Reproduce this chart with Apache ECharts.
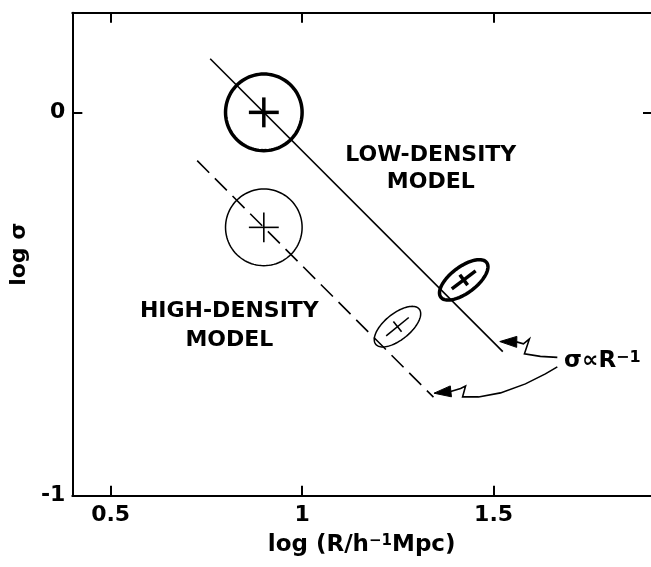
<!DOCTYPE html>
<html><head><meta charset="utf-8">
<script src="https://cdn.jsdelivr.net/npm/echarts@6/dist/echarts.min.js"></script>
<style>html,body{margin:0;padding:0;background:#fff}#c{width:651px;height:567px}</style>
</head><body><div id="c"></div>
<script>
// ---- axis ticks ----
const xTicks = [0.5, 1, 1.5];
const xTickLabels = ['0.5', '1', '1.5'];
const yTicks = [-1, 0];
const yTickLabels = ['-1', '0'];

// ---- sigma ∝ R^-1 model lines ----
const lowLineX = [0.76, 1.524];
const lowLineY = [0.14, -0.624];
const highLineX = [0.726, 1.343];
const highLineY = [-0.126, -0.743];

// ---- measured points (centre, error ellipse semi-axes, tilt in degrees) ----
const lowX = [0.9, 1.422];
const lowY = [0.0, -0.437];
const lowSemiMajor = [0.1, 0.075];
const lowSemiMinor = [0.1, 0.034];
const lowAngle = [0, 37];

const highX = [0.9, 1.249];
const highY = [-0.3, -0.559];
const highSemiMajor = [0.1, 0.073];
const highSemiMinor = [0.1, 0.034];
const highAngle = [0, 39];

// ---- annotation texts (data coordinates) ----
const labelTexts = ['LOW-DENSITY', 'MODEL', 'HIGH-DENSITY', 'MODEL'];
const labelX = [1.336, 1.336, 0.81, 0.81];
const labelY = [-0.113, -0.182, -0.518, -0.594];
const lawText = ['σ∝R', '−1'];
const lawX = [1.784];
const lawY = [-0.649];

// ---- pointer arrows (tip first, then tail path) ----
const arrow1X = [1.5161, 1.5596, 1.5779, 1.5935, 1.5805, 1.6221, 1.6664];
const arrow1Y = [-0.5979, -0.5987, -0.6039, -0.5909, -0.6300, -0.6366, -0.6392];
const arrow2X = [1.3443, 1.3878, 1.4138, 1.4268, 1.4190, 1.4607, 1.5180, 1.5831, 1.6352, 1.6664];
const arrow2Y = [-0.7326, -0.7279, -0.7201, -0.7136, -0.7423, -0.7423, -0.7318, -0.7083, -0.6822, -0.6640];

const FONT = 'DejaVu Sans';
const chart = echarts.init(document.getElementById('c'), null, {renderer: 'canvas'});

function markerRenderer(lineWidth, crossWidth) {
  return function (params, api) {
    const c = api.coord([api.value(0), api.value(1)]);
    const s = api.size([1, 1]);
    const a = api.value(2) * s[0];
    const b = api.value(3) * s[1];
    const th = api.value(4) * Math.PI / 180;
    const ct = Math.cos(th), st = Math.sin(th);
    const tr = (lx, ly) => [c[0] + lx * ct - ly * st, c[1] - (lx * st + ly * ct)];
    const pts = [];
    for (let k = 0; k < 96; k++) {
      const t = k / 96 * Math.PI * 2;
      pts.push(tr(a * Math.cos(t), b * Math.sin(t)));
    }
    const circ = Math.abs(a - b) < 1;
    const ma = circ ? 0.39 * a : 0.52 * a;
    const mb = circ ? 0.39 * b : 0.5 * b;
    const p1 = tr(-ma, 0), p2 = tr(ma, 0), p3 = tr(0, -mb), p4 = tr(0, mb);
    return {
      type: 'group',
      children: [
        {type: 'polygon', shape: {points: pts}, style: {fill: 'none', stroke: '#000', lineWidth: lineWidth}},
        {type: 'line', shape: {x1: p1[0], y1: p1[1], x2: p2[0], y2: p2[1]}, style: {stroke: '#000', lineWidth: crossWidth}},
        {type: 'line', shape: {x1: p3[0], y1: p3[1], x2: p4[0], y2: p4[1]}, style: {stroke: '#000', lineWidth: crossWidth}}
      ]
    };
  };
}

const arrows = [[arrow1X, arrow1Y], [arrow2X, arrow2Y]];

const axisLineStyle = {onZero: false, lineStyle: {color: '#000', width: 2}};

const option = {
  animation: false,
  backgroundColor: '#fff',
  grid: {left: 70.7, right: 0, top: 12.7, bottom: 71.3},
  xAxis: [
    {
      type: 'value', min: 0.4, max: 1.911, position: 'bottom',
      axisLine: axisLineStyle,
      axisTick: {inside: true, length: 10, customValues: xTicks, lineStyle: {color: '#000', width: 2}},
      axisLabel: {customValues: xTicks, formatter: v => xTickLabels[xTicks.indexOf(v)] ?? '', color: '#000',
        fontFamily: FONT, fontWeight: 'bold', fontSize: 22, margin: 9},
      splitLine: {show: false},
      name: 'log (R/h{sup|−1}Mpc)', nameLocation: 'middle', nameGap: 38,
      nameTextStyle: {color: '#000', fontFamily: FONT, fontWeight: 'bold', fontSize: 23,
        rich: {sup: {fontFamily: FONT, fontWeight: 'bold', fontSize: 15, verticalAlign: 'top', color: '#000'}}}
    },
    {
      type: 'value', min: 0.4, max: 1.911, position: 'top',
      axisLine: axisLineStyle,
      axisTick: {inside: true, length: 10, customValues: xTicks, lineStyle: {color: '#000', width: 2}},
      axisLabel: {show: false}, splitLine: {show: false}
    }
  ],
  yAxis: [
    {
      type: 'value', min: -1, max: 0.26, position: 'left',
      axisLine: axisLineStyle,
      axisTick: {inside: true, length: 10, customValues: yTicks, lineStyle: {color: '#000', width: 2}},
      axisLabel: {customValues: yTicks, formatter: v => yTickLabels[yTicks.indexOf(v)] ?? '', color: '#000',
        fontFamily: FONT, fontWeight: 'bold', fontSize: 22, margin: 7},
      splitLine: {show: false},
      name: 'log σ', nameLocation: 'middle', nameGap: 30,
      nameTextStyle: {color: '#000', fontFamily: FONT, fontWeight: 'bold', fontSize: 22}
    },
    {
      type: 'value', min: -1, max: 0.26, position: 'right',
      axisLine: {show: false, onZero: false},
      axisTick: {show: true, inside: true, length: 8, customValues: yTicks, lineStyle: {color: '#000', width: 2}},
      axisLabel: {show: false}, splitLine: {show: false}
    }
  ],
  series: [
    {
      type: 'line', name: 'low-density model', xAxisIndex: 0, yAxisIndex: 0,
      data: lowLineX.map((x, i) => [x, lowLineY[i]]), symbol: 'none',
      lineStyle: {color: '#000', width: 1.6}
    },
    {
      type: 'line', name: 'high-density model', xAxisIndex: 0, yAxisIndex: 0,
      data: highLineX.map((x, i) => [x, highLineY[i]]), symbol: 'none',
      lineStyle: {color: '#000', width: 1.6, type: [17, 8]}
    },
    {
      type: 'custom', name: 'low-density data', xAxisIndex: 0, yAxisIndex: 0,
      data: lowX.map((x, i) => [x, lowY[i], lowSemiMajor[i], lowSemiMinor[i], lowAngle[i]]),
      encode: {x: 0, y: 1},
      renderItem: markerRenderer(3.5, 3.5)
    },
    {
      type: 'custom', name: 'high-density data', xAxisIndex: 0, yAxisIndex: 0,
      data: highX.map((x, i) => [x, highY[i], highSemiMajor[i], highSemiMinor[i], highAngle[i]]),
      encode: {x: 0, y: 1},
      renderItem: markerRenderer(1.5, 1.6)
    },
    {
      type: 'custom', name: 'labels', xAxisIndex: 0, yAxisIndex: 0,
      data: labelX.map((x, i) => [x, labelY[i], i]),
      encode: {x: 0, y: 1},
      renderItem: function (params, api) {
        const c = api.coord([api.value(0), api.value(1)]);
        return {type: 'text', x: c[0], y: c[1],
          style: {text: labelTexts[api.value(2)], fill: '#000', align: 'center', verticalAlign: 'middle',
            font: 'bold 22px "' + FONT + '"'}};
      }
    },
    {
      type: 'custom', name: 'law', xAxisIndex: 0, yAxisIndex: 0,
      data: lawX.map((x, i) => [x, lawY[i]]),
      encode: {x: 0, y: 1},
      renderItem: function (params, api) {
        const c = api.coord([api.value(0), api.value(1)]);
        return {type: 'text', x: c[0], y: c[1],
          style: {text: '{a|' + lawText[0] + '}{b|' + lawText[1] + '}', align: 'center', verticalAlign: 'middle',
            rich: {
              a: {fill: '#000', fontFamily: FONT, fontWeight: 'bold', fontSize: 23},
              b: {fill: '#000', fontFamily: FONT, fontWeight: 'bold', fontSize: 16, verticalAlign: 'top'}
            }}};
      }
    },
    {
      type: 'custom', name: 'arrows', xAxisIndex: 0, yAxisIndex: 0,
      data: arrows.map((ar, i) => [ar[0][0], ar[1][0], i]),
      encode: {x: 0, y: 1},
      renderItem: function (params, api) {
        const ar = arrows[api.value(2)];
        const pts = ar[0].map((x, i) => api.coord([x, ar[1][i]]));
        const tip = pts[0], nxt = pts[1];
        const dx = nxt[0] - tip[0], dy = nxt[1] - tip[1];
        const L = Math.hypot(dx, dy), ux = dx / L, uy = dy / L;
        const len = 17, hw = 5.5;
        const bx = tip[0] + ux * len, by = tip[1] + uy * len;
        const tri = [tip, [bx - uy * hw, by + ux * hw], [bx + uy * hw, by - ux * hw]];
        return {type: 'group', children: [
          {type: 'polygon', shape: {points: tri}, style: {fill: '#000', stroke: '#000', lineWidth: 1}},
          {type: 'polyline', shape: {points: pts.slice(1)}, style: {fill: 'none', stroke: '#000', lineWidth: 1.6}}
        ]};
      }
    }
  ]
};
chart.setOption(option);
</script>
</body></html>
